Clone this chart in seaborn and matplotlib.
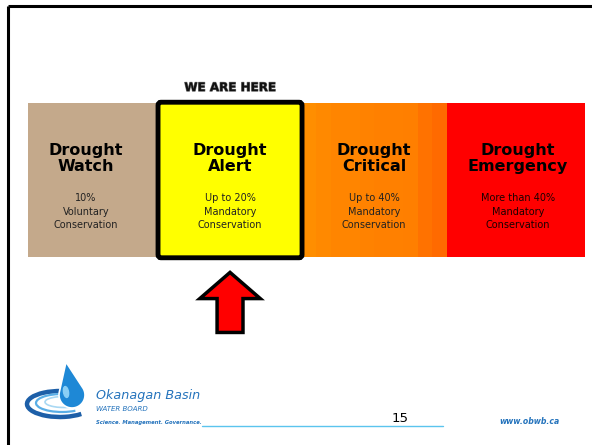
import numpy as np
import pandas as pd
import seaborn as sns
import matplotlib.pyplot as plt
import matplotlib.patheffects as pe
from matplotlib.patches import FancyArrow, FancyBboxPatch, Ellipse, Polygon, Arc
from matplotlib.colors import LinearSegmentedColormap

# stages of the drought response
stages = ["Drought\nWatch", "Drought\nAlert", "Drought\nCritical", "Drought\nEmergency"]
targets = ["10%\nVoluntary\nConservation",
           "Up to 20%\nMandatory\nConservation",
           "Up to 40%\nMandatory\nConservation",
           "More than 40%\nMandatory\nConservation"]
level = [1, 1, 1, 1]
current = "Drought\nAlert"
stage_colors = ["#C4A98B", "#FFFF00", "#FF8600", "#FF0000"]

df = pd.DataFrame({"stage": stages, "level": level})

sns.set_style("white")
plt.rcParams["font.family"] = ["DejaVu Sans"]

fig = plt.figure(figsize=(5.92, 4.45), dpi=100)

# background layer in pixel coordinates (slide frame, logo, footer)
bg = fig.add_axes([0, 0, 1, 1])
bg.set_xlim(0, 592)
bg.set_ylim(445, 0)
bg.axis("off")
bg.plot([8, 592], [6, 6], color="black", lw=2.2, solid_capstyle="butt")
bg.plot([8, 8], [6, 445], color="black", lw=2.2, solid_capstyle="butt")

# logo: swirl + drop
bg.add_patch(Arc((60, 404), 66, 26, theta1=25, theta2=330, ec="#1D5FA8", lw=3.2))
bg.add_patch(Arc((62, 403), 52, 18, theta1=30, theta2=320, ec="#5AAEE6", lw=1.6))
bg.add_patch(Arc((64, 402), 38, 11, theta1=40, theta2=310, ec="#A9D8F3", lw=1.2))
T = np.array([66.0, 362.0])
C = np.array([72.0, 395.0])
r = 13.0
v = T - C
d = np.hypot(*v)
a0 = np.arctan2(v[1], v[0])
phi = np.arccos(r / d)
ang = np.linspace(a0 + phi, a0 + 2 * np.pi - phi, 60)
drop = np.vstack([T, np.c_[C[0] + r * np.cos(ang), C[1] + r * np.sin(ang)], T])
bg.add_patch(Polygon(drop, closed=True, fc="#1E88D6", ec="white", lw=1.2, zorder=4))
bg.add_patch(Ellipse((66, 392), 5, 11, angle=-10, color="#8ACFF5", zorder=5))
bg.text(96, 399, "Okanagan Basin", fontsize=9.2, style="italic", color="#2473BC")
bg.text(96, 411, "WATER BOARD", fontsize=5, style="italic", color="#2473BC")
bg.text(96, 424, "Science. Management. Governance.", fontsize=3.8, style="italic",
        weight="bold", color="#2473BC")
bg.plot([202, 443], [426, 426], color="#5BC4EE", lw=1.0)
bg.text(392, 422, "15", fontsize=9.5, color="black")
bg.text(499, 424, "www.obwb.ca", fontsize=5.6, style="italic", weight="bold", color="#2473BC")

# stage bars
ax = fig.add_axes([28 / 592, 1 - 257 / 445, 557 / 592, 154 / 445])
sns.barplot(data=df, x="stage", y="level", hue="stage", palette=stage_colors,
            width=1.0, legend=False, ax=ax, saturation=1, linewidth=0)

# stepped gradient on the critical stage
crit = ax.patches[2]
x0, w = crit.get_x(), crit.get_width()
cmap = LinearSegmentedColormap.from_list("crit", ["#FF8E00", "#FF8400", "#FF7E00", "#FF6A00"])
grad = np.array([[0.0, 0.15, 0.3, 0.3, 0.4, 0.5, 0.5, 0.6, 0.85, 1.0]])
im = ax.imshow(grad, cmap=cmap, extent=(x0, x0 + w, 0, 1), aspect="auto", zorder=2)
im.set_clip_path(crit)
ax.set_xlim(-0.403, 3.465)
ax.set_ylim(0, 1)
ax.axis("off")

for i, (s, tg) in enumerate(zip(stages, targets)):
    ax.text(i, 0.64, s, ha="center", va="center", fontsize=11.5, weight="bold",
            linespacing=1.12, color="black", zorder=5)
    ax.text(i, 0.295, tg, ha="center", va="center", fontsize=7, linespacing=1.45,
            color="#1A0000" if i == 3 else "#222222", zorder=5)

# highlight current stage
k = stages.index(current)
ax.add_patch(FancyBboxPatch((k - 0.5, -0.005), 1.0, 1.01,
                            boxstyle="round,pad=0,rounding_size=0.02",
                            fill=False, ec="black", lw=3.5, clip_on=False, zorder=6))
ax.text(k, 1.1, "WE ARE HERE", ha="center", va="center", fontsize=8.6, weight="bold",
        color="#111111", zorder=6,
        path_effects=[pe.withStroke(linewidth=0.8, foreground="#777777")])
ax.add_patch(FancyArrow(k, -0.49, 0, 0.39, width=0.18, head_width=0.42,
                        head_length=0.17, length_includes_head=True,
                        fc="#FF0000", ec="black", lw=2.5, clip_on=False, zorder=6))

fig.savefig("out.png", dpi=100)
